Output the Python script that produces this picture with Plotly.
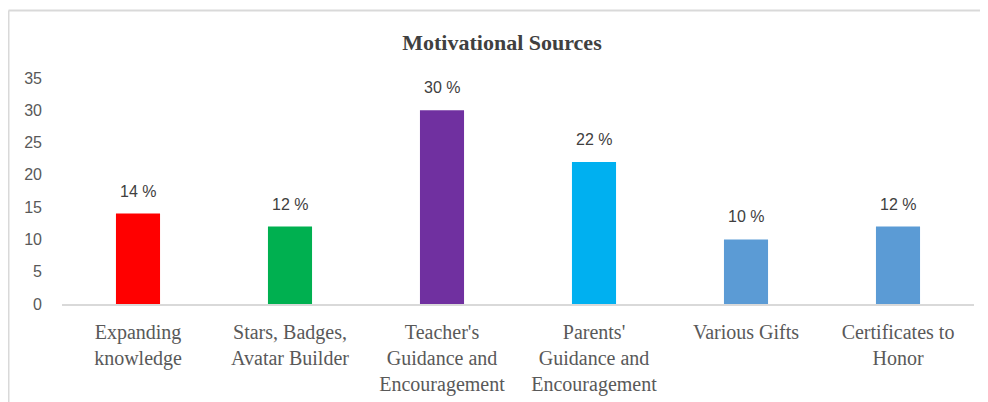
import plotly.graph_objects as go

categories = [
    "Expanding<br>knowledge",
    "Stars, Badges,<br>Avatar Builder",
    "Teacher's<br>Guidance and<br>Encouragement",
    "Parents'<br>Guidance and<br>Encouragement",
    "Various Gifts",
    "Certificates to<br>Honor",
]
values = [14, 12, 30, 22, 10, 12]
labels = ["14 %", "12 %", "30 %", "22 %", "10 %", "12 %"]
colors = ["#FF0000", "#00B050", "#7030A0", "#00B0F0", "#5B9BD5", "#5B9BD5"]
y_ticks = [0, 5, 10, 15, 20, 25, 30, 35]

fig = go.Figure(
    go.Bar(
        x=categories,
        y=values,
        marker=dict(color=colors, line=dict(width=0)),
        width=0.29,
        hoverinfo="skip",
    )
)

for c, v, t in zip(categories, values, labels):
    fig.add_annotation(
        x=c, y=v, text=t, showarrow=False, yanchor="bottom", yshift=12,
        font=dict(family="Liberation Sans", size=16, color="#404040"),
    )

# page has an 8px body margin, so the figure is 8px smaller and offset
W, H = 980, 394
ML, MR, MT, MB = 54, 14, 70, 98
pw, ph = W - ML - MR, H - MT - MB

# outer chart border (top and left edges visible)
bx = (0.5 - ML) / pw
by = (H - MB - 2.5) / ph
fig.add_shape(type="line", xref="paper", yref="paper", x0=bx, x1=1.2, y0=by, y1=by,
              line=dict(color="#D9D9D9", width=2))
fig.add_shape(type="line", xref="paper", yref="paper", x0=bx, x1=bx, y0=by, y1=-1,
              line=dict(color="#D9D9D9", width=2))

fig.update_layout(
    width=W, height=H,
    margin=dict(l=ML, r=MR, t=MT, b=MB, autoexpand=False),
    paper_bgcolor="white", plot_bgcolor="white",
    showlegend=False,
    title=dict(
        text="<b>Motivational Sources</b>",
        x=494 / W, xanchor="center", xref="container",
        y=1 - 34 / H, yanchor="middle", yref="container",
        font=dict(family="Liberation Serif", size=22, color="#404040"),
    ),
    xaxis=dict(
        showline=True, linecolor="#D9D9D9", linewidth=1.5,
        showgrid=False, ticks="", tickangle=0, automargin=False,
        ticklabelstandoff=9,
        tickfont=dict(family="Liberation Serif", size=20, color="#595959"),
    ),
    yaxis=dict(
        range=[0, 35], tickvals=y_ticks, showgrid=False, zeroline=False,
        showline=False, ticks="", ticklabelstandoff=19, automargin=False,
        tickfont=dict(family="Liberation Sans", size=16, color="#595959"),
    ),
)

fig.write_html("out.html")
